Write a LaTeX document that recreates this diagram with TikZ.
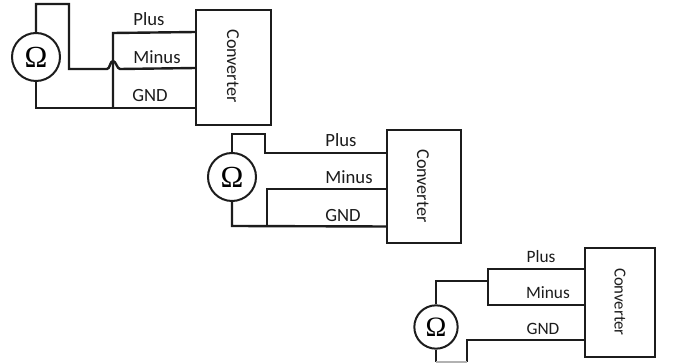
\documentclass[tikz,border=0pt]{standalone}
\usepackage{fontspec}
\setmainfont{Carlito}
\newfontfamily\omegafont{Liberation Serif}
\definecolor{ink}{HTML}{1C1C1C}
\tikzset{
  wire/.style={draw=ink,line width=1.8pt,line join=miter},
  conv/.style={draw=ink,line width=1.8pt,fill=white,minimum width=0pt,inner sep=0pt},
  meter/.style={circle,draw=ink,line width=1.5pt,inner sep=0pt,font=\omegafont\fontsize{23}{23}\selectfont},
  lab/.style={font=\fontsize{14}{16}\selectfont,text=ink,inner sep=0pt},
  labs/.style={font=\fontsize{13}{15}\selectfont,text=ink,inner sep=0pt},
  convlab/.style={font=\fontsize{13.6}{15}\selectfont,text=ink,inner sep=0pt,rotate=-90}
}
\begin{document}
\begin{tikzpicture}[x=0.75pt,y=-0.75pt]
\useasboundingbox (0,0) rectangle (676,363);
\clip (0,0) rectangle (676,363);
\fill[white] (0,0) rectangle (676,363);
% --- first circuit
\node[conv,minimum width=56.25pt,minimum height=86.25pt] (boxA) at (233.5,67.5) {};
\node[meter,minimum size=36pt] (mA) at (36,57) {\symbol{"03A9}};
\coordinate (a1) at (36,4); \coordinate (a2) at (69,4); \coordinate (a3) at (69,69);
\coordinate (a4) at (107,69); \coordinate (a6) at (120,69);
\coordinate (a7) at (196,68);
\coordinate (a8) at (113,33); \coordinate (a9) at (196,32);
\coordinate (a10) at (36,108); \coordinate (a11) at (113,108); \coordinate (a12) at (196,108);
\draw[wire] (mA.north) -- (a1) -- (a2) -- (a3) -- (a4) .. controls (110,69) and (110,61) .. (113,61) .. controls (116,61) and (117,69) .. (a6) -- (a7);
\draw[wire] (a9) -- (a8) -- (a11);
\draw[wire] (mA.south) -- (a10) -- (a12);
\node[lab] (pA) at (149,19) {Plus};
\node[lab] (nA) at (157,57) {Minus};
\node[lab] (gA) at (150,96) {GND};
\node[convlab] (cA) at (233,66) {Converter};
% --- second circuit
\node[conv,minimum width=55.5pt,minimum height=84.75pt] (boxB) at (424,186.5) {};
\node[meter,minimum size=36pt] (mB) at (232,177) {\symbol{"03A9}};
\coordinate (b1) at (232,134); \coordinate (b2) at (265,134); \coordinate (b3) at (265,153);
\coordinate (b4) at (387,153);
\coordinate (b5) at (267,189); \coordinate (b6) at (387,189);
\coordinate (b7) at (232,226); \coordinate (b8) at (267,226); \coordinate (b9) at (387,226.5);
\draw[wire] (mB.north) -- (b1) -- (b2) -- (b3) -- (b4);
\draw[wire] (b6) -- (b5) -- (b8);
\draw[wire] (mB.south) -- (b7) -- (b9);
\node[lab] (pB) at (341,140) {Plus};
\node[lab] (nB) at (349,177) {Minus};
\node[lab] (gB) at (343,216) {GND};
\node[convlab] (cB) at (423,186) {Converter};
% --- third circuit
\node[conv,minimum width=52.5pt,minimum height=81.75pt] (boxC) at (620,302.5) {};
\node[meter,minimum size=32.5pt,font=\omegafont\fontsize{21}{21}\selectfont] (mC) at (436,327) {\symbol{"03A9}};
\coordinate (c1) at (436,281); \coordinate (c2) at (488,281);
\coordinate (c3) at (488,269); \coordinate (c4) at (585,269);
\coordinate (c5) at (488,305); \coordinate (c6) at (585,305);
\coordinate (c7) at (467,362); \coordinate (c8) at (467,340); \coordinate (c9) at (585,340);
\coordinate (c10) at (436,362);
\draw[wire] (mC.north) -- (c1) -- (c2);
\draw[wire] (c4) -- (c3) -- (c5) -- (c6);
\draw[wire] (mC.south) -- (c10);
\draw[wire] (c7) -- (c8) -- (c9);
\draw[draw=gray!60,line width=1.2pt] (c10) -- (c7);
\node[labs] (pC) at (541,257) {Plus};
\node[labs] (nC) at (548,293) {Minus};
\node[labs] (gC) at (543,329) {GND};
\node[convlab,font=\fontsize{12.6}{14}\selectfont] (cC) at (620,302) {Converter};
\end{tikzpicture}
\end{document}
